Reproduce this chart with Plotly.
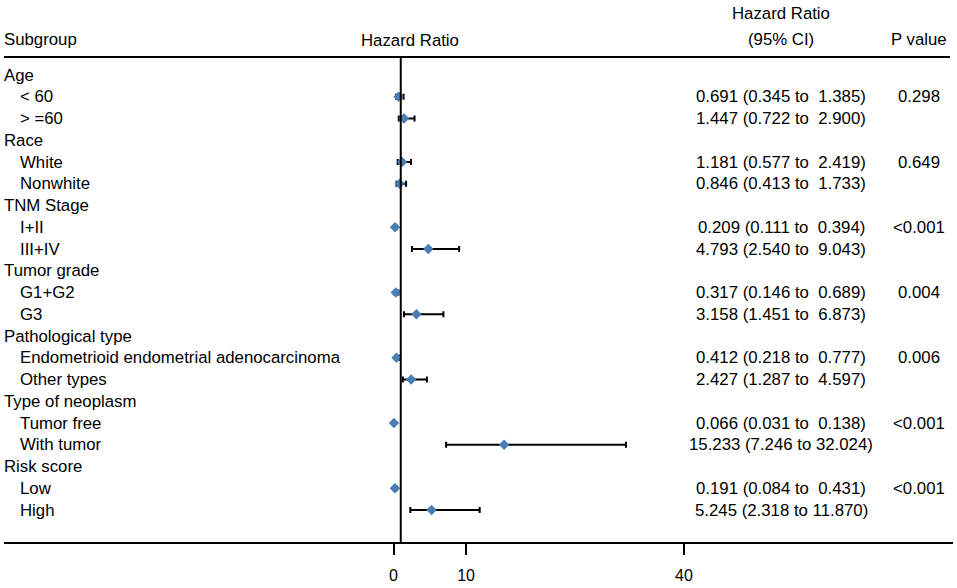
import plotly.graph_objects as go

# Subgroups and their levels
categories = ["Age", "Race", "TNM Stage", "Tumor grade", "Pathological type",
              "Type of neoplasm", "Risk score"]
levels = [
    ["< 60", "> =60"],
    ["White", "Nonwhite"],
    ["I+II", "III+IV"],
    ["G1+G2", "G3"],
    ["Endometrioid endometrial adenocarcinoma", "Other types"],
    ["Tumor free", "With tumor"],
    ["Low", "High"],
]

# Hazard ratios with 95% CI, one per level (in order)
hr = [0.691, 1.447, 1.181, 0.846, 0.209, 4.793, 0.317, 3.158,
      0.412, 2.427, 0.066, 15.233, 0.191, 5.245]
ci_low = [0.345, 0.722, 0.577, 0.413, 0.111, 2.540, 0.146, 1.451,
          0.218, 1.287, 0.031, 7.246, 0.084, 2.318]
ci_high = [1.385, 2.900, 2.419, 1.733, 0.394, 9.043, 0.689, 6.873,
           0.777, 4.597, 0.138, 32.024, 0.431, 11.870]
p_values = ["0.298", "0.649", "<0.001", "0.004", "0.006", "<0.001", "<0.001"]

x_ticks = [0, 10, 40]

FONT = "Liberation Sans, Arial, sans-serif"
FS = 16.8

# pixel -> data helpers (layout only)
PX0, PXU = 393.5, 7.26          # x pixel of HR=0, pixels per HR unit
RY0, RDY = 75.0, 21.75          # y pixel of first row, pixels per row
PL, PW = 4, 949                 # plot area left edge and width in pixels


def xd(px):
    return (px - PX0) / PXU


def xp(px):
    return (px - PL) / PW


def yd(px):
    return (px - RY0) / RDY


def esc(s):
    return s.replace("<", "&lt;").replace(">", "&gt;")


# Build rows
rows_y, rows_hr, rows_lo, rows_hi = [], [], [], []
annotations = []
row = 0
k = 0
for ci, cat in enumerate(categories):
    annotations.append(dict(x=xp(4), y=row, text=cat, xanchor="left", xshift=-2))
    row += 1
    for j, lev in enumerate(levels[ci]):
        annotations.append(dict(x=xp(18), y=row, text=esc(lev), xanchor="left"))
        hi_txt = f"{ci_high[k]:.3f}"
        if len(hi_txt) < 6:
            hi_txt = "\u00a0" + hi_txt
        ci_txt = f"{hr[k]:.3f} ({ci_low[k]:.3f} to\u00a0{hi_txt})"
        annotations.append(dict(x=xp(781), y=row, text=ci_txt, xanchor="center"))
        if j == 0:
            annotations.append(dict(x=xp(918.5), y=row, text=esc(p_values[ci]),
                                    xanchor="center"))
        rows_y.append(row)
        rows_hr.append(hr[k])
        rows_lo.append(hr[k] - ci_low[k])
        rows_hi.append(ci_high[k] - hr[k])
        row += 1
        k += 1

# Column headers
annotations += [
    dict(x=xp(4), y=yd(39.5), text="Subgroup", xanchor="left", xshift=-2),
    dict(x=xp(410), y=yd(40), text="Hazard Ratio", xanchor="center"),
    dict(x=xp(781), y=yd(13.3), text="Hazard Ratio", xanchor="center"),
    dict(x=xp(781), y=yd(39.5), text="(95% CI)", xanchor="center"),
    dict(x=xp(918.5), y=yd(39.5), text="P value", xanchor="center"),
]
for a in annotations:
    a.update(xref="paper", yref="y", showarrow=False, yanchor="middle",
             font=dict(family=FONT, size=FS, color="black"))

fig = go.Figure()
fig.add_trace(go.Scatter(
    x=rows_hr, y=rows_y,
    mode="markers",
    marker=dict(symbol="diamond", size=8, color="#4A7DB3"),
    error_x=dict(type="data", symmetric=False, array=rows_hi, arrayminus=rows_lo,
                 color="black", thickness=2, width=3),
    showlegend=False,
    hoverinfo="skip",
))

header_y = yd(57)
bottom_y = yd(542)

fig.update_layout(
    width=957, height=588,
    margin=dict(l=PL, r=957 - PL - PW, t=0, b=46),
    plot_bgcolor="white", paper_bgcolor="white",
    annotations=annotations,
    shapes=[
        dict(type="line", xref="paper", yref="y", x0=0, x1=xp(950),
             y0=header_y, y1=header_y, line=dict(color="black", width=2)),
        dict(type="line", xref="x", yref="y", x0=1, x1=1,
             y0=header_y, y1=bottom_y, line=dict(color="black", width=2)),
    ],
)
fig.update_xaxes(
    range=[xd(PL), xd(PL + PW)],
    tickvals=x_ticks,
    ticks="outside", ticklen=11, tickwidth=2, tickcolor="black",
    showline=True, linewidth=2, linecolor="black",
    showgrid=False, zeroline=False,
    ticklabelstandoff=7,
    tickfont=dict(family=FONT, size=16, color="black"),
)
fig.update_yaxes(range=[bottom_y, yd(0)], visible=False)

fig.write_html("out.html", config={"displayModeBar": False},
               post_script="document.body.style.margin='0px';")
